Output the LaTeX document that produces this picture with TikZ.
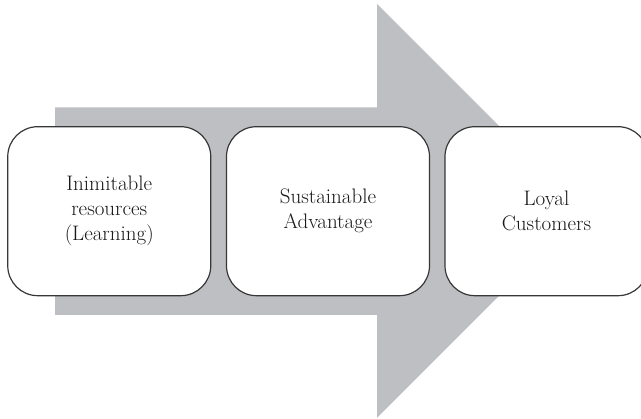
\documentclass[tikz,border=0pt]{standalone}
\usepackage{fontspec}
\begin{document}
\begin{tikzpicture}[x=1pt,y=-1pt,
  stagebox/.style={draw=boxline, line width=1.2pt, fill=white, rounded corners=30pt,
    minimum width=203pt, minimum height=169pt, inner sep=0pt, align=center,
    font=\fontsize{21}{25}\selectfont, text=textcol}]
\definecolor{arrowgray}{RGB}{190,191,195}
\definecolor{boxline}{RGB}{55,55,55}
\definecolor{textcol}{RGB}{25,25,25}
\useasboundingbox (0,0) rectangle (641,419);
\fill[arrowgray] (55,107.5) -- (377,107.5) -- (377,4) -- (584,211) -- (377,418) -- (377,315) -- (55,315) -- cycle;
\node[stagebox] (b1) at (109.25,211.2) {Inimitable\\resources\\(Learning)};
\node[stagebox] (b2) at (328,211.2) {Sustainable\\Advantage};
\node[stagebox] (b3) at (546.5,211.2) {Loyal\\Customers};
\end{tikzpicture}
\end{document}
